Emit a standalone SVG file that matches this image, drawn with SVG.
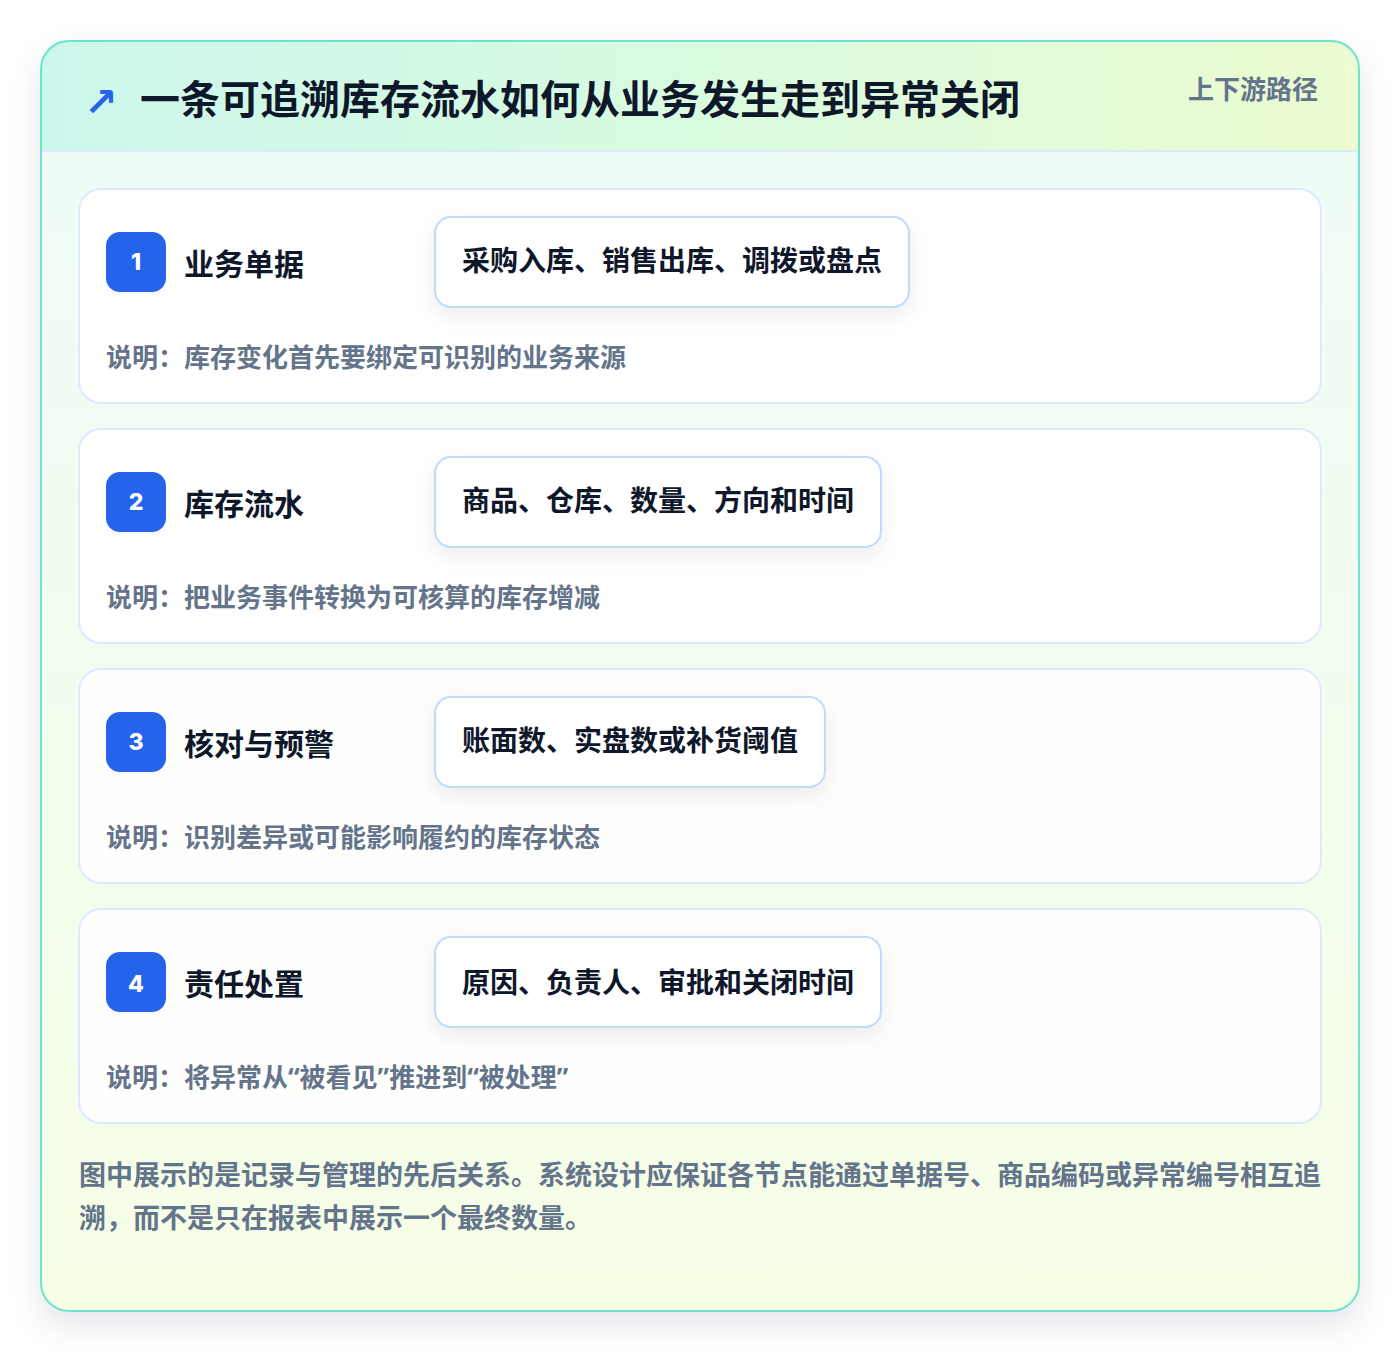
<svg xmlns="http://www.w3.org/2000/svg" width="1400" height="1352" viewBox="0 0 1400 1352">
<defs>
<linearGradient id="hdr" x1="0" y1="0" x2="1" y2="0">
<stop offset="0" stop-color="#ccf7ec"/>
<stop offset="0.5" stop-color="#d9fbe0"/>
<stop offset="1" stop-color="#ecfbd0"/>
</linearGradient>
<linearGradient id="body" x1="0" y1="0" x2="0" y2="1">
<stop offset="0" stop-color="#effcf8"/>
<stop offset="1" stop-color="#f6fee6"/>
</linearGradient>
<filter id="shadow" x="-10%" y="-10%" width="120%" height="125%">
<feDropShadow dx="0" dy="14" stdDeviation="16" flood-color="#0f172a" flood-opacity="0.10"/>
</filter>
<filter id="pshadow" x="-20%" y="-40%" width="140%" height="190%">
<feDropShadow dx="0" dy="8" stdDeviation="10" flood-color="#0f172a" flood-opacity="0.07"/>
</filter>
<clipPath id="outerClip"><rect x="41" y="41" width="1318" height="1270" rx="28"/></clipPath>
<style>
text{font-family:"Noto Sans CJK SC","Noto Sans",sans-serif;font-weight:700}
.title{font-size:40px;fill:#0f172a}
.tag{font-size:26px;fill:#64748b}
.card{fill:#ffffff;fill-opacity:0.88;stroke:#dbeafe;stroke-width:2}
.badge{fill:#2563eb}
.num{font-family:"Inter","Liberation Sans",sans-serif;font-size:23px;font-weight:800;fill:#ffffff;text-anchor:middle}
.ctitle{font-size:30px;fill:#0f172a}
.pill{fill:#ffffff;stroke:#bfdbfe;stroke-width:2}
.ptext{font-size:28px;fill:#0f172a}
.desc{font-size:26px;fill:#64748b}
.q{font-family:"Noto Sans","Liberation Sans",sans-serif}
.foot{font-size:27px;fill:#64748b}
</style>
</defs>
<rect x="0" y="0" width="1400" height="1352" fill="#ffffff"/>
<g id="frame">
<rect x="41" y="41" width="1318" height="1270" rx="28" fill="url(#body)" filter="url(#shadow)"/>
<g clip-path="url(#outerClip)">
<rect x="41" y="41" width="1318" height="110" fill="url(#hdr)"/>
<line x1="41" y1="151" x2="1359" y2="151" stroke="#dbeafe" stroke-width="2"/>
</g>
<rect x="41" y="41" width="1318" height="1270" rx="28" fill="none" stroke="#6ee4cf" stroke-width="2"/>
</g>
<g id="header">
<text x="84" y="116" style="font-family:'DejaVu Sans',sans-serif;font-size:40px;fill:#2563eb;font-weight:700">↗</text>
<text class="title" x="140" y="114">一条可追溯库存流水如何从业务发生走到异常关闭</text>
<text class="tag" x="1318" y="99" text-anchor="end">上下游路径</text>
</g>
<g id="connectors"/>
<g id="node-1">
<rect class="card" x="79" y="189" width="1242" height="214" rx="22"/>
<rect class="badge" x="106" y="232" width="60" height="60" rx="14"/>
<text class="num" x="136" y="270">1</text>
<text class="ctitle" x="184" y="275">业务单据</text>
<rect class="pill" x="435" y="217" width="474" height="90" rx="16" filter="url(#pshadow)"/>
<text class="ptext" x="462" y="271">采购入库、销售出库、调拨或盘点</text>
<text class="desc" x="106" y="367">说明：库存变化首先要绑定可识别的业务来源</text>
</g>
<g id="node-2">
<rect class="card" x="79" y="429" width="1242" height="214" rx="22"/>
<rect class="badge" x="106" y="472" width="60" height="60" rx="14"/>
<text class="num" x="136" y="510">2</text>
<text class="ctitle" x="184" y="515">库存流水</text>
<rect class="pill" x="435" y="457" width="446" height="90" rx="16" filter="url(#pshadow)"/>
<text class="ptext" x="462" y="511">商品、仓库、数量、方向和时间</text>
<text class="desc" x="106" y="607">说明：把业务事件转换为可核算的库存增减</text>
</g>
<g id="node-3">
<rect class="card" x="79" y="669" width="1242" height="214" rx="22"/>
<rect class="badge" x="106" y="712" width="60" height="60" rx="14"/>
<text class="num" x="136" y="750">3</text>
<text class="ctitle" x="184" y="755">核对与预警</text>
<rect class="pill" x="435" y="697" width="390" height="90" rx="16" filter="url(#pshadow)"/>
<text class="ptext" x="462" y="751">账面数、实盘数或补货阈值</text>
<text class="desc" x="106" y="847">说明：识别差异或可能影响履约的库存状态</text>
</g>
<g id="node-4">
<rect class="card" x="79" y="909" width="1242" height="214" rx="22"/>
<rect class="badge" x="106" y="952" width="60" height="60" rx="14"/>
<text class="num" x="136" y="992">4</text>
<text class="ctitle" x="184" y="995">责任处置</text>
<rect class="pill" x="435" y="937" width="446" height="90" rx="16" filter="url(#pshadow)"/>
<text class="ptext" x="462" y="993">原因、负责人、审批和关闭时间</text>
<text class="desc" x="106" y="1087">说明：将异常从<tspan class="q">“</tspan>被看见<tspan class="q">”</tspan>推进到<tspan class="q">“</tspan>被处理<tspan class="q">”</tspan></text>
</g>
<g id="footer">
<text class="foot" x="79" y="1185">图中展示的是记录与管理的先后关系。系统设计应保证各节点能通过单据号、商品编码或异常编号相互追</text>
<text class="foot" x="79" y="1228">溯，而不是只在报表中展示一个最终数量。</text>
</g>
</svg>
